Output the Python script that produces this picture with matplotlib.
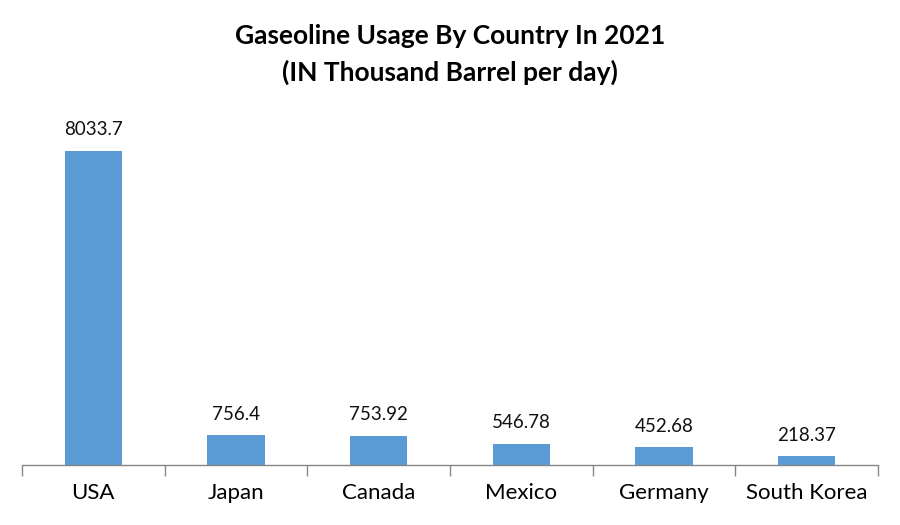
import matplotlib
matplotlib.use('Agg')
import numpy as np
from matplotlib import pyplot as plt

countries = ['USA', 'Japan', 'Canada', 'Mexico', 'Germany', 'South Korea']
usage = [8033.7, 756.4, 753.92, 546.78, 452.68, 218.37]
value_labels = ['8033.7', '756.4', '753.92', '546.78', '452.68', '218.37']

bar_color = '#5B9BD5'
axis_color = '#868686'

plt.rcParams['font.family'] = ['Lato', 'DejaVu Sans']


def main():
    fig = plt.figure(figsize=(9, 5.25), dpi=100)
    # axes box in figure fractions (900 x 525 px)
    ax = fig.add_axes([22 / 900, 1 - 465 / 525, 856 / 900, 352 / 525])

    x = np.arange(len(countries))
    ax.bar(x, usage, width=0.4, color=bar_color)

    for xi, val, lab in zip(x, usage, value_labels):
        ax.annotate(lab, (xi, val), xytext=(0, 9), textcoords='offset points',
                    ha='center', va='bottom', fontsize=13.5, color='#111111')

    ax.set_xlim(-0.5, len(countries) - 0.5)
    ax.set_ylim(0, 9000)

    ax.set_xticks(np.arange(len(countries) + 1) - 0.5, minor=False)
    ax.set_xticklabels([])
    ax.set_xticks(x, minor=True)
    ax.set_xticklabels(countries, minor=True, fontsize=16)
    ax.tick_params(axis='x', which='major', length=8, width=1, color=axis_color)
    ax.tick_params(axis='x', which='minor', length=0, pad=13)
    ax.set_yticks([])

    for side in ['top', 'right', 'left']:
        ax.spines[side].set_visible(False)
    ax.spines['bottom'].set_color(axis_color)
    ax.spines['bottom'].set_linewidth(1)

    fig.text(0.5, 1 - 36 / 525, 'Gaseoline Usage By Country In 2021',
             ha='center', va='center', fontsize=19, fontweight='bold')
    fig.text(0.5, 1 - 72 / 525, '(IN Thousand Barrel per day)',
             ha='center', va='center', fontsize=19, fontweight='bold')

    fig.savefig('out.png', dpi=100)


if __name__ == '__main__':
    main()
